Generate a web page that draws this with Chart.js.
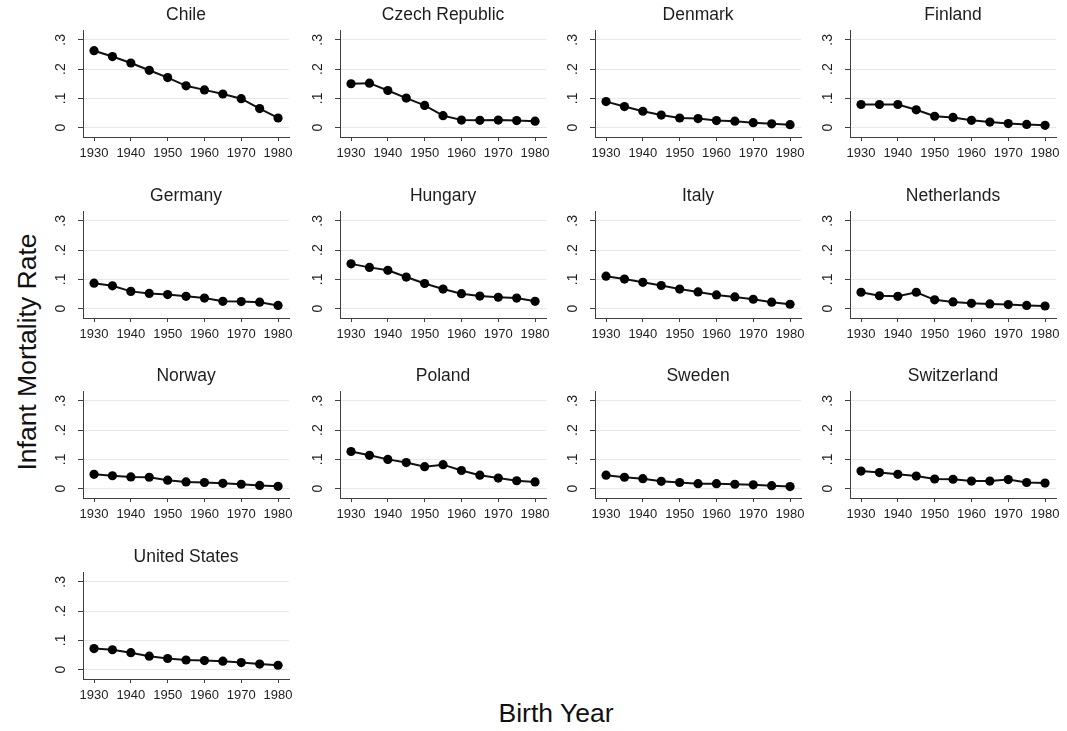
<!DOCTYPE html>
<html>
<head>
<meta charset="utf-8">
<script src="https://cdn.jsdelivr.net/npm/chart.js@4/dist/chart.umd.min.js"></script>
<style>
  html, body { margin: 0; padding: 0; background: #fff; }
  body { width: 1067px; height: 731px; position: relative; overflow: hidden; font-family: "Liberation Sans", Arial, sans-serif; }
  canvas.panel { position: absolute; }
  #ytitle { position: absolute; left: 27px; top: 352px; transform: translate(-50%, -50%) rotate(-90deg); font-size: 26.5px; color: #111; white-space: nowrap; }
  #xtitle { position: absolute; left: 556px; top: 713px; transform: translate(-50%, -50%); font-size: 26.5px; color: #111; white-space: nowrap; }
</style>
</head>
<body>
<div id="ytitle">Infant Mortality Rate</div>
<div id="xtitle">Birth Year</div>
<script>
// ---- data ----
const years = [1930, 1935, 1940, 1945, 1950, 1955, 1960, 1965, 1970, 1975, 1980];
const xTickValues = [1930, 1940, 1950, 1960, 1970, 1980];
const yTickValues = [0, 0.1, 0.2, 0.3];
const yTickLabels = ["0", ".1", ".2", ".3"];
const countries = ["Chile", "Czech Republic", "Denmark", "Finland", "Germany", "Hungary", "Italy",
                   "Netherlands", "Norway", "Poland", "Sweden", "Switzerland", "United States"];
const chile       = [0.263, 0.243, 0.221, 0.196, 0.171, 0.143, 0.129, 0.115, 0.099, 0.065, 0.033];
const czech       = [0.150, 0.152, 0.127, 0.101, 0.076, 0.041, 0.026, 0.025, 0.026, 0.024, 0.022];
const denmark     = [0.089, 0.072, 0.056, 0.043, 0.033, 0.031, 0.024, 0.022, 0.017, 0.013, 0.010];
const finland     = [0.079, 0.079, 0.079, 0.061, 0.039, 0.035, 0.025, 0.019, 0.014, 0.011, 0.008];
const germany     = [0.087, 0.078, 0.059, 0.052, 0.048, 0.042, 0.036, 0.025, 0.024, 0.022, 0.011];
const hungary     = [0.153, 0.141, 0.131, 0.108, 0.086, 0.067, 0.051, 0.043, 0.039, 0.036, 0.025];
const italy       = [0.111, 0.101, 0.090, 0.079, 0.067, 0.057, 0.047, 0.040, 0.032, 0.022, 0.015];
const netherlands = [0.056, 0.044, 0.042, 0.056, 0.030, 0.023, 0.018, 0.016, 0.014, 0.011, 0.009];
const norway      = [0.049, 0.044, 0.040, 0.039, 0.029, 0.023, 0.021, 0.018, 0.015, 0.011, 0.008];
const poland      = [0.127, 0.114, 0.100, 0.089, 0.075, 0.082, 0.062, 0.046, 0.036, 0.027, 0.023];
const sweden      = [0.046, 0.039, 0.034, 0.025, 0.021, 0.017, 0.017, 0.015, 0.013, 0.010, 0.007];
const switzerland = [0.060, 0.055, 0.049, 0.043, 0.033, 0.032, 0.026, 0.026, 0.031, 0.021, 0.019];
const unitedStates= [0.072, 0.068, 0.058, 0.046, 0.038, 0.033, 0.031, 0.029, 0.024, 0.019, 0.015];
const seriesList = [chile, czech, denmark, finland, germany, hungary, italy,
                    netherlands, norway, poland, sweden, switzerland, unitedStates];

// ---- layout ----
const colAxisX = [83, 340, 595, 850];
const rowTop = [30.5, 211, 391.5, 572];
const LEFT = 45, PLOTW = 207, RIGHTPAD = 8, TOP = 30.5, PLOTH = 106.5, BOTTOM = 38;
const CW = LEFT + PLOTW + RIGHTPAD, CH = TOP + PLOTH + BOTTOM;
const AXIS = '#3f3f3f', GRID = '#e8e8e8', TEXT = '#1e1e1e';
const FONT = "'Liberation Sans', Arial, sans-serif";

countries.forEach((name, i) => {
  const c = i % 4, r = Math.floor(i / 4);
  const cv = document.createElement('canvas');
  cv.className = 'panel';
  cv.width = CW; cv.height = Math.ceil(CH);
  cv.style.left = (colAxisX[c] - LEFT) + 'px';
  cv.style.top = (rowTop[r] - TOP) + 'px';
  document.body.appendChild(cv);
  new Chart(cv, {
    type: 'line',
    data: {
      datasets: [{
        data: years.map((y, k) => ({ x: y, y: seriesList[i][k] })),
        borderColor: '#111', backgroundColor: '#111',
        borderWidth: 2, pointRadius: 4.6, pointHoverRadius: 4.6,
        pointBackgroundColor: '#000', pointBorderColor: '#000', pointBorderWidth: 0,
        tension: 0, clip: false
      }]
    },
    options: {
      responsive: false, animation: false, devicePixelRatio: 1,
      layout: { padding: { left: 0, right: RIGHTPAD, top: 0, bottom: 0 } },
      plugins: {
        legend: { display: false }, tooltip: { enabled: false },
        title: {
          display: true, text: name, fullSize: false, color: TEXT,
          font: { family: FONT, size: 17.5, weight: 'normal', lineHeight: 1.2 },
          padding: { top: 4.5, bottom: 5 }
        }
      },
      scales: {
        x: {
          type: 'linear', min: 1927, max: 1983,
          afterBuildTicks: s => { s.ticks = xTickValues.map(v => ({ value: v })); },
          afterFit: s => { s.height = BOTTOM; },
          grid: { drawOnChartArea: false, drawTicks: true, tickLength: 4, tickColor: AXIS, tickWidth: 1 },
          border: { display: true, color: AXIS, width: 1 },
          ticks: { color: TEXT, font: { family: FONT, size: 13 }, padding: 5, maxRotation: 0, autoSkip: false,
                   callback: v => String(v) }
        },
        y: {
          type: 'linear', min: -0.032, max: 0.332,
          afterBuildTicks: s => { s.ticks = yTickValues.map(v => ({ value: v })); },
          afterFit: s => { s.width = LEFT; },
          grid: { drawOnChartArea: true, color: GRID, lineWidth: 1, drawTicks: true, tickLength: 5, tickColor: AXIS, tickWidth: 1 },
          border: { display: true, color: AXIS, width: 1 },
          ticks: { color: TEXT, font: { family: FONT, size: 14 }, padding: 11, minRotation: 90, maxRotation: 90,
                   crossAlign: 'center', autoSkip: false,
                   callback: (v) => { const k = yTickValues.findIndex(t => Math.abs(t - v) < 1e-9); return k >= 0 ? yTickLabels[k] : ''; } }
        }
      }
    }
  });
});
</script>
</body>
</html>
